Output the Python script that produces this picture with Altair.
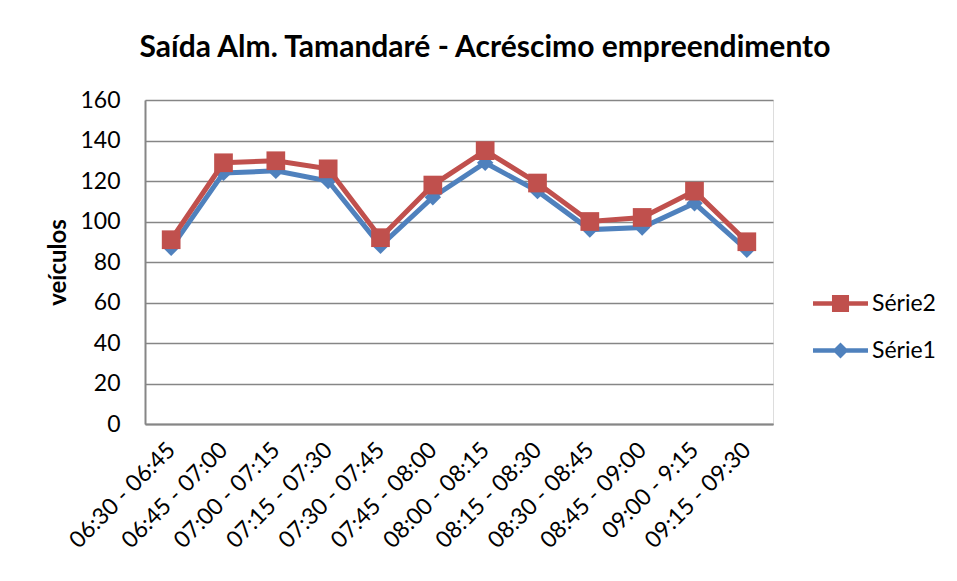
import altair as alt
import pandas as pd

categories = ["06:30 - 06:45", "06:45 - 07:00", "07:00 - 07:15", "07:15 - 07:30",
              "07:30 - 07:45", "07:45 - 08:00", "08:00 - 08:15", "08:15 - 08:30",
              "08:30 - 08:45", "08:45 - 09:00", "09:00 - 9:15", "09:15 - 09:30"]
serie1 = [87, 124, 125, 120, 88, 112, 129, 115, 96, 97, 109, 86]
serie2 = [91, 129, 130, 126, 92, 118, 135, 119, 100, 102, 115, 90]
series_names = ["Série2", "Série1"]
series_colors = ["#C0504D", "#4F81BD"]

rows = []
for c, v in zip(categories, serie1):
    rows.append({"faixa": c, "veiculos": v, "serie": "Série1"})
for c, v in zip(categories, serie2):
    rows.append({"faixa": c, "veiculos": v, "serie": "Série2"})
df = pd.DataFrame(rows)

FONT = "Lato"

x_enc = alt.X("faixa:N", sort=categories, title=None,
              scale=alt.Scale(paddingInner=0, paddingOuter=0.5),
              axis=alt.Axis(labelAngle=-45, labelAlign="right", labelBaseline="middle",
                            labelPadding=22, ticks=False, grid=False,
                            domainColor="#868686", domainWidth=2,
                            labelFont=FONT, labelFontSize=23, labelColor="black"))
y_enc = alt.Y("veiculos:Q", title="veículos",
              scale=alt.Scale(domain=[0, 160], nice=False),
              axis=alt.Axis(values=list(range(0, 161, 20)), ticks=False, grid=True,
                            gridColor="#868686", gridWidth=1.5,
                            domainColor="#868686", domainWidth=2,
                            labelPadding=25, labelFont=FONT, labelFontSize=23,
                            labelColor="black",
                            titleFont=FONT, titleFontSize=24, titleFontWeight="bold",
                            titleColor="black", titleAngle=-90, titleX=-87, titleY=162,
                            titleAlign="center", titleBaseline="middle"))

base = alt.Chart(df)

line1 = base.transform_filter("datum.serie == 'Série1'").mark_line(
    color="#4F81BD", strokeWidth=5).encode(x=x_enc, y=y_enc)
pts1 = base.transform_filter("datum.serie == 'Série1'").mark_point(
    shape="diamond", filled=True, color="#4F81BD", size=270, opacity=1).encode(x=x_enc, y=y_enc)
line2 = base.transform_filter("datum.serie == 'Série2'").mark_line(
    color="#C0504D", strokeWidth=5).encode(x=x_enc, y=y_enc)
pts2 = base.transform_filter("datum.serie == 'Série2'").mark_point(
    shape="square", filled=True, color="#C0504D", size=350, opacity=1).encode(x=x_enc, y=y_enc)

legend_shapes = [
    "M-1,-0.08H1V0.08H-1Z M-0.31,-0.31H0.31V0.31H-0.31Z",
    "M-1,-0.08H1V0.08H-1Z M0,-0.29L0.29,0L0,0.29L-0.29,0Z",
]
legend_cfg = dict(title=None, orient="none", legendX=668, legendY=180,
                  symbolSize=3025, symbolStrokeWidth=0,
                  clipHeight=47, rowPadding=0, padding=0,
                  labelFont=FONT, labelFontSize=23, labelColor="black",
                  labelOffset=4)
legend_layer = base.transform_filter("false").mark_point(filled=True, opacity=1).encode(
    x=x_enc, y=y_enc,
    color=alt.Color("serie:N", scale=alt.Scale(domain=series_names, range=series_colors),
                    legend=alt.Legend(**legend_cfg)),
    shape=alt.Shape("serie:N", scale=alt.Scale(domain=series_names, range=legend_shapes),
                    legend=alt.Legend(**legend_cfg)),
)

chart = alt.layer(line1, pts1, line2, pts2, legend_layer).properties(
    width=628, height=324,
    padding={"left": 137, "top": 92, "right": 176, "bottom": 149},
    autosize=alt.AutoSizeParams(type="none"),
    title=alt.TitleParams("Saída Alm. Tamandaré - Acréscimo empreendimento",
                          font=FONT, fontSize=30, fontWeight="bold", color="black",
                          anchor="middle", offset=2, baseline="alphabetic", dx=26),
).configure_view(stroke=None).configure(background="white")

chart.save("out.html", embed_options={"renderer": "svg", "actions": False})
